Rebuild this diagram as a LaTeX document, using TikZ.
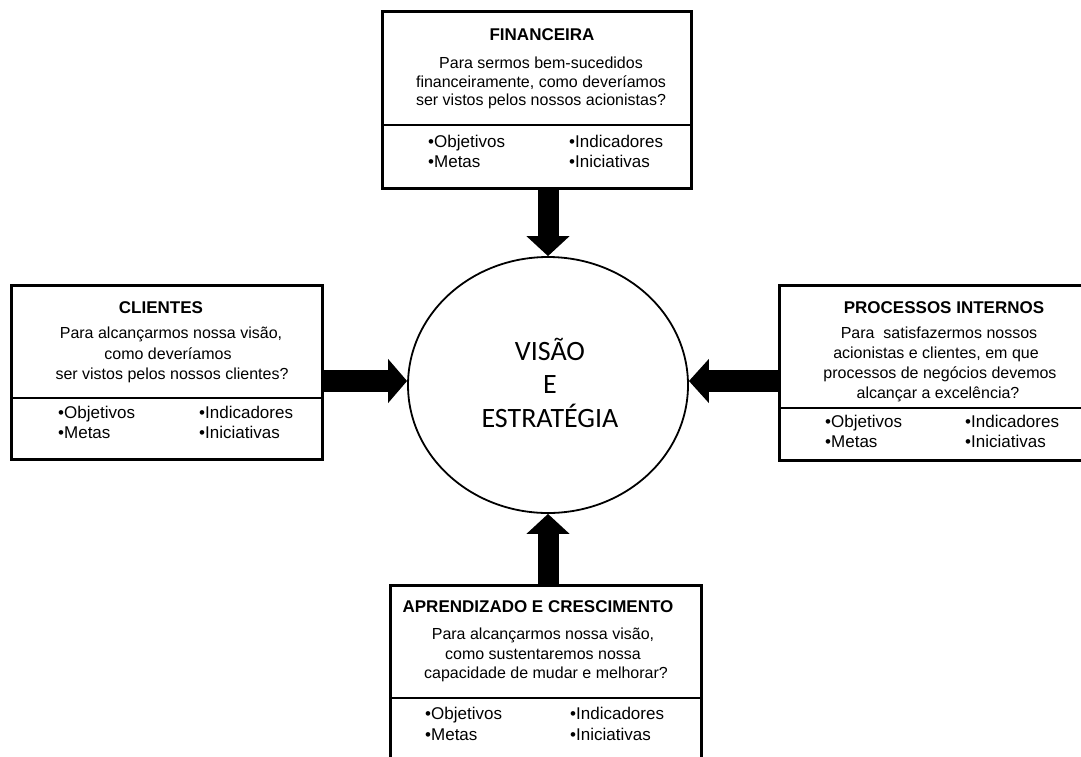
\documentclass[tikz,border=0pt]{standalone}
\usepackage{fontspec}
\setmainfont{Liberation Sans}
\newfontfamily\visfont{Carlito}
\usetikzlibrary{shapes.geometric,arrows.meta,calc}
\begin{document}
\begin{tikzpicture}[x=1pt,y=-1pt,
  panel/.style={draw, line width=3pt, rectangle, inner sep=0pt, anchor=north west},
  divider/.style={line width=2.4pt},
  ptitle/.style={font=\bfseries\fontsize{17}{20}\selectfont, anchor=base, inner sep=0pt},
  pbody/.style={font=\fontsize{16}{19}\selectfont, anchor=base, inner sep=0pt},
  pitem/.style={font=\fontsize{17}{20}\selectfont, anchor=base west, inner sep=0pt},
  vline/.style={font=\visfont\fontsize{28}{33}\selectfont, anchor=base, inner sep=0pt},
  bigarrow/.style={line width=21pt, -{Triangle[length=20pt,width=42pt]}},
]
\useasboundingbox (0,0) rectangle (1081,756);
\clip (0,0) rectangle (1081,756);

% central ellipse
\node[ellipse, draw, line width=1.8pt, minimum width=280pt, minimum height=256pt, inner sep=0pt] (vis) at (548,385) {};
\node[vline] (v1) at (550,360) {VISÃO};
\node[vline] (v2) at (550,393) {E};
\node[vline] (v3) at (550,427) {ESTRATÉGIA};

% perspective panels
\node[panel, minimum width=309pt, minimum height=177pt] (fin) at (381,10) {};
\node[panel, minimum width=311pt, minimum height=174pt] (cli) at (10,284) {};
\node[panel, minimum width=312pt, minimum height=175pt] (pro) at (778,284) {};
\node[panel, minimum width=311pt, minimum height=190pt] (apr) at (389,584) {};

% dividers between question and indicators
\coordinate (fd) at (0,125);
\coordinate (cd) at (0,398);
\coordinate (pd) at (0,408);
\coordinate (ad) at (0,698);
\draw[divider] (fin.west |- fd) -- (fin.east |- fd);
\draw[divider] (cli.west |- cd) -- (cli.east |- cd);
\draw[divider] (pro.west |- pd) -- (pro.east |- pd);
\draw[divider] (apr.west |- ad) -- (apr.east |- ad);

% FINANCEIRA
\node[ptitle] (ft) at (542,40) {FINANCEIRA};
\node[pbody] (fb1) at (541,68) {Para sermos bem-sucedidos};
\node[pbody] (fb2) at (541,87) {financeiramente, como deveríamos};
\node[pbody] (fb3) at (541,105) {ser vistos pelos nossos acionistas?};
\node[pitem] (fi1) at (428,147) {•Objetivos};
\node[pitem] (fi2) at (428,167) {•Metas};
\node[pitem] (fi3) at (569,147) {•Indicadores};
\node[pitem] (fi4) at (569,167) {•Iniciativas};

% CLIENTES
\node[ptitle] (ct) at (161,313) {CLIENTES};
\node[pbody] (cb1) at (171,338) {Para alcançarmos nossa visão,};
\node[pbody] (cb2) at (168,359) {como deveríamos};
\node[pbody] (cb3) at (172,379) {ser vistos pelos nossos clientes?};
\node[pitem] (ci1) at (58,418) {•Objetivos};
\node[pitem] (ci2) at (58,438) {•Metas};
\node[pitem] (ci3) at (199,418) {•Indicadores};
\node[pitem] (ci4) at (199,438) {•Iniciativas};

% PROCESSOS INTERNOS
\node[ptitle] (pt) at (944,313) {PROCESSOS INTERNOS};
\node[pbody] (pb1) at (939,338) {Para\ \ satisfazermos nossos};
\node[pbody] (pb2) at (936,358) {acionistas e clientes, em que};
\node[pbody] (pb3) at (940,378) {processos de negócios devemos};
\node[pbody] (pb4) at (938,398) {alcançar a excelência?};
\node[pitem] (pi1) at (825,427) {•Objetivos};
\node[pitem] (pi2) at (825,447) {•Metas};
\node[pitem] (pi3) at (965,427) {•Indicadores};
\node[pitem] (pi4) at (965,447) {•Iniciativas};

% APRENDIZADO E CRESCIMENTO
\node[ptitle] (at) at (538,612) {APRENDIZADO E CRESCIMENTO};
\node[pbody] (ab1) at (543,639) {Para alcançarmos nossa visão,};
\node[pbody] (ab2) at (543,659) {como sustentaremos nossa};
\node[pbody] (ab3) at (546,678) {capacidade de mudar e melhorar?};
\node[pitem] (ai1) at (425,719) {•Objetivos};
\node[pitem] (ai2) at (425,740) {•Metas};
\node[pitem] (ai3) at (570,719) {•Indicadores};
\node[pitem] (ai4) at (570,740) {•Iniciativas};

% block arrows into the centre
\coordinate (lw) at ($(vis.west)+(0,-4)$);
\coordinate (le) at ($(vis.east)+(0,-4)$);
\draw[bigarrow] (vis.north |- fin.south) -- (vis.north);
\draw[bigarrow] (vis.south |- apr.north) -- (vis.south);
\draw[line width=22pt, -{Triangle[length=19pt,width=43pt]}] (cli.east |- lw) -- (lw);
\draw[line width=22pt, -{Triangle[length=20pt,width=43pt]}] (pro.west |- le) -- (le);
\end{tikzpicture}
\end{document}
